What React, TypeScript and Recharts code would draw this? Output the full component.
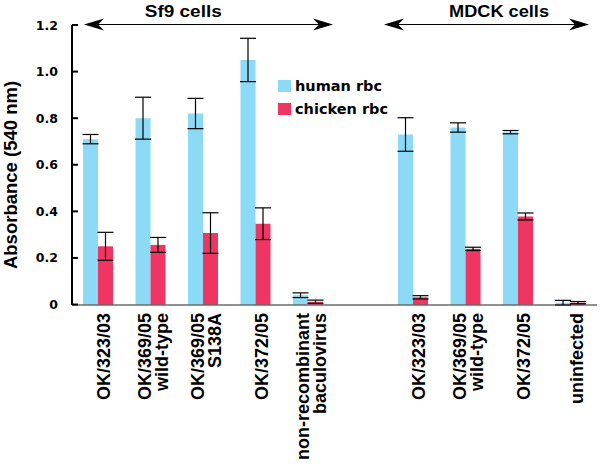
import { BarChart, Bar, XAxis, YAxis, ErrorBar, Legend, ReferenceArea } from "recharts";

// one slot per bar pair; "gap" keeps the empty space between the two cell types
const categoryIds = [
  "sf9-323",
  "sf9-369wt",
  "sf9-369s138a",
  "sf9-372",
  "sf9-nonrec",
  "gap",
  "mdck-323",
  "mdck-369wt",
  "mdck-372",
  "mdck-uninf",
];

const tickLabels: string[][] = [
  ["OK/323/03"],
  ["OK/369/05", "wild-type"],
  ["OK/369/05", "S138A"],
  ["OK/372/05"],
  ["non-recombinant", "baculovirus"],
  [],
  ["OK/323/03"],
  ["OK/369/05", "wild-type"],
  ["OK/372/05"],
  ["uninfected"],
];

const humanRbc = [0.71, 0.8, 0.82, 1.05, 0.04, null, 0.73, 0.76, 0.74, 0.008];
const humanErr = [0.02, 0.09, 0.065, 0.093, 0.01, null, 0.072, 0.02, 0.007, 0.01];
const chickenRbc = [0.25, 0.256, 0.307, 0.347, 0.012, null, 0.031, 0.239, 0.378, 0.008];
const chickenErr = [0.06, 0.032, 0.087, 0.068, 0.007, null, 0.007, 0.007, 0.015, 0.005];

const yTicks = [0, 0.2, 0.4, 0.6, 0.8, 1.0, 1.2];

const seriesNames = ["human rbc", "chicken rbc"];
const COLORS = ["#8cdaf6", "#ef3562"];

const WIDE = "'DejaVu Sans', Verdana, sans-serif";
const ARIAL = "'Liberation Sans', Arial, sans-serif";

const data = categoryIds.map((id, i) => ({
  id,
  human: humanRbc[i],
  humanErr: humanErr[i],
  chicken: chickenRbc[i],
  chickenErr: chickenErr[i],
}));

function CategoryTick({ x, y, payload }: any) {
  const lines = tickLabels[payload.index] ?? [];
  const n = lines.length;
  return (
    <g>
      {lines.map((line, i) => {
        const bx = x + 12 + (i - (n - 1) / 2) * 17 - (n > 1 ? 3 : 0);
        return (
          <text
            key={i}
            x={bx}
            y={y}
            transform={`rotate(-90 ${bx} ${y})`}
            textAnchor="end"
            fontFamily={ARIAL}
            fontWeight="bold"
            fontSize={18}
            fill="#000"
          >
            {line}
          </text>
        );
      })}
    </g>
  );
}

function ValueTick({ x, y, payload }: any) {
  const axisX = x + 14;
  return (
    <g>
      <line x1={axisX} x2={axisX + 6} y1={y} y2={y} stroke="#000" strokeWidth={2} />
      <text
        x={x}
        y={y + 4.5}
        textAnchor="end"
        fontFamily={WIDE}
        fontWeight="bold"
        fontSize={12.5}
        fill="#000"
      >
        {payload.value === 0 ? "0" : payload.value.toFixed(1)}
      </text>
    </g>
  );
}

function arrowShape(label: string, insetL: number, insetR: number, labelShift: number, labelWidth: number) {
  return (props: any) => {
    const y = props.y - 0.5;
    const x1 = props.x + insetL;
    const x2 = props.x + props.width - insetR;
    const cx = props.x + props.width / 2 + labelShift;
    return (
      <g>
        <line x1={x1 + 8} x2={x2 - 8} y1={y} y2={y} stroke="#000" strokeWidth={1.2} />
        <path
          d={`M${x1},${y} L${x1 + 20},${y - 6} L${x1 + 14},${y} L${x1 + 20},${y + 6} Z`}
          fill="#000"
        />
        <path
          d={`M${x2},${y} L${x2 - 20},${y - 6} L${x2 - 14},${y} L${x2 - 20},${y + 6} Z`}
          fill="#000"
        />
        <text
          x={cx - labelWidth / 2}
          y={y - 7.5}
          textLength={labelWidth}
          lengthAdjust="spacingAndGlyphs"
          fontFamily={ARIAL}
          fontWeight="bold"
          fontSize={16}
          fill="#000"
        >
          {label}
        </text>
      </g>
    );
  };
}

function SeriesLegend() {
  return (
    <div style={{ fontFamily: WIDE, fontWeight: "bold", fontSize: 14.5 }}>
      {seriesNames.map((name, i) => (
        <div key={name} style={{ height: 23, display: "flex", alignItems: "center", whiteSpace: "nowrap" }}>
          <span
            style={{
              width: 13,
              height: 12,
              background: COLORS[i],
              display: "inline-block",
              marginRight: 4,
            }}
          />
          <span>{name}</span>
        </div>
      ))}
    </div>
  );
}

export default function App() {
  return (
    <div style={{ position: "absolute", left: 0, top: 0, background: "#fff" }}>
      <BarChart
        width={600}
        height={464}
        data={data}
        margin={{ top: 25, right: 3, left: 0, bottom: 0 }}
        barSize={15}
        barGap={0}
      >
        <XAxis
          dataKey="id"
          interval={0}
          height={159}
          tickLine={false}
          tickSize={0}
          tickMargin={8}
          axisLine={{ stroke: "#222", strokeWidth: 1.2 }}
          tick={<CategoryTick />}
        />
        <YAxis
          width={72}
          domain={[0, 1.2]}
          ticks={yTicks}
          tickLine={false}
          tickSize={0}
          tickMargin={14}
          axisLine={{ stroke: "#000", strokeWidth: 2 }}
          tick={<ValueTick />}
          label={{
            content: ({ viewBox }: any) => {
              const lx = viewBox.x + 17;
              const ly = viewBox.y + viewBox.height / 2 + 10;
              return (
                <text
                  x={lx}
                  y={ly}
                  transform={`rotate(-90 ${lx} ${ly})`}
                  textAnchor="middle"
                  fontFamily={ARIAL}
                  fontWeight="bold"
                  fontSize={18.5}
                  fill="#000"
                >
                  Absorbance (540 nm)
                </text>
              );
            },
          }}
        />
        <ReferenceArea
          x1="sf9-323"
          x2="sf9-nonrec"
          fill="none"
          stroke="none"
          ifOverflow="visible"
          shape={arrowShape("Sf9 cells", 12, 1.5, -20, 77)}
        />
        <ReferenceArea
          x1="mdck-323"
          x2="mdck-uninf"
          fill="none"
          stroke="none"
          ifOverflow="visible"
          shape={arrowShape("MDCK cells", -3, 8, 7, 100)}
        />
        <Legend
          layout="vertical"
          align="center"
          verticalAlign="middle"
          content={<SeriesLegend />}
          wrapperStyle={{ left: 278, top: 74, width: "auto" }}
        />
        <Bar dataKey="human" name={seriesNames[0]} fill={COLORS[0]} isAnimationActive={false}>
          <ErrorBar dataKey="humanErr" width={8} stroke="#000" strokeWidth={1.2} />
        </Bar>
        <Bar dataKey="chicken" name={seriesNames[1]} fill={COLORS[1]} isAnimationActive={false}>
          <ErrorBar dataKey="chickenErr" width={8} stroke="#000" strokeWidth={1.2} />
        </Bar>
      </BarChart>
    </div>
  );
}
